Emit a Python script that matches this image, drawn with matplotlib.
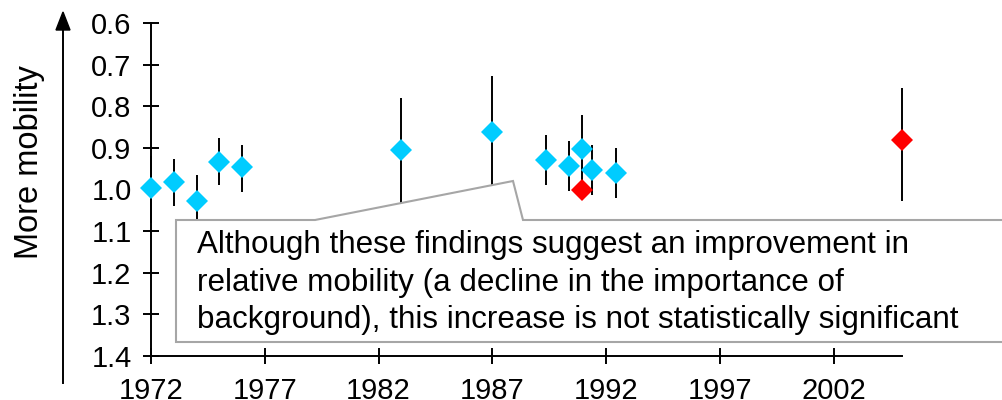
import matplotlib.pyplot as plt
from matplotlib.patches import Polygon

plt.rcParams['font.family'] = ['Liberation Sans', 'DejaVu Sans']

# blue series: year, estimate, lower, upper
blue_years = [1972, 1973, 1974, 1975, 1976, 1983, 1987, 1989.35, 1990.38, 1990.92, 1991.36, 1992.42]
blue_vals = [0.997, 0.982, 1.028, 0.934, 0.947, 0.905, 0.861, 0.930, 0.944, 0.902, 0.952, 0.961]
blue_low = [0.920, 0.927, 0.965, 0.876, 0.893, 0.781, 0.727, 0.870, 0.883, 0.822, 0.893, 0.900]
blue_high = [1.080, 1.040, 1.090, 0.990, 1.006, 1.040, 1.000, 0.990, 1.004, 0.985, 1.013, 1.020]

# red series
red_years = [1990.92, 2005]
red_vals = [1.000, 0.882]
red_low = [0.975, 0.757]
red_high = [1.024, 1.028]

xticks = [1972, 1977, 1982, 1987, 1992, 1997, 2002]
yticks = [0.6, 0.7, 0.8, 0.9, 1.0, 1.1, 1.2, 1.3, 1.4]

note_lines = ["Although these findings suggest an improvement in",
              "relative mobility (a decline in the importance of",
              "background), this increase is not statistically significant"]

W, H = 1003, 400
fig = plt.figure(figsize=(W / 100, H / 100), dpi=100)
ax = fig.add_axes([151 / W, 1 - 356 / H, (902 - 151) / W, (356 - 23) / H])

def draw(years, vals, low, high, color):
    yerr = [[v - l for v, l in zip(vals, low)], [h - v for v, h in zip(vals, high)]]
    ax.errorbar(years, vals, yerr=yerr, fmt='none', ecolor='black', elinewidth=1.4,
                capsize=0, zorder=2, clip_on=False)
    ax.plot(years, vals, 'D', color=color, markersize=11.5, markeredgewidth=0,
            zorder=3, clip_on=False)

draw(blue_years, blue_vals, blue_low, blue_high, '#00CCFF')
draw(red_years, red_vals, red_low, red_high, '#FF0000')

ax.set_xlim(1972, 2005)
ax.set_ylim(1.4, 0.6)
ax.set_xticks(xticks)
ax.set_yticks(yticks)
ax.set_yticklabels([f"{t:.1f}" for t in yticks])
for s in ['top', 'right']:
    ax.spines[s].set_visible(False)
for s in ['left', 'bottom']:
    ax.spines[s].set_linewidth(1.4)
ax.tick_params(axis='both', direction='inout', length=12, width=1.4, labelsize=21)
ax.tick_params(axis='y', pad=8)
ax.tick_params(axis='x', pad=9)

fig.text(30 / W, 1 - 162 / H, "More mobility", rotation=90, fontsize=23.5,
         ha='center', va='center')

# arrow on the left
fig.add_artist(plt.Line2D([63 / W, 63 / W], [1 - 383 / H, 1 - 25 / H], color='black', lw=1.4))
fig.add_artist(Polygon([[56 / W, 1 - 30 / H], [70 / W, 1 - 30 / H], [63 / W, 1 - 12 / H]],
                       closed=True, transform=fig.transFigure, color='black'))

# callout box
pts = [(176, 220), (315, 220), (513, 181), (523, 220), (1010, 220), (1010, 342), (176, 342)]
box = Polygon([[x / W, 1 - y / H] for x, y in pts], closed=True, transform=fig.transFigure,
              facecolor='white', edgecolor='#A6A6A6', linewidth=1.5, zorder=5)
fig.add_artist(box)
for i, line in enumerate(note_lines):
    fig.text(197 / W, 1 - (245 + 37.5 * i) / H, line, fontsize=22.6, va='center', ha='left', zorder=6)

fig.savefig('out.png', dpi=100)
